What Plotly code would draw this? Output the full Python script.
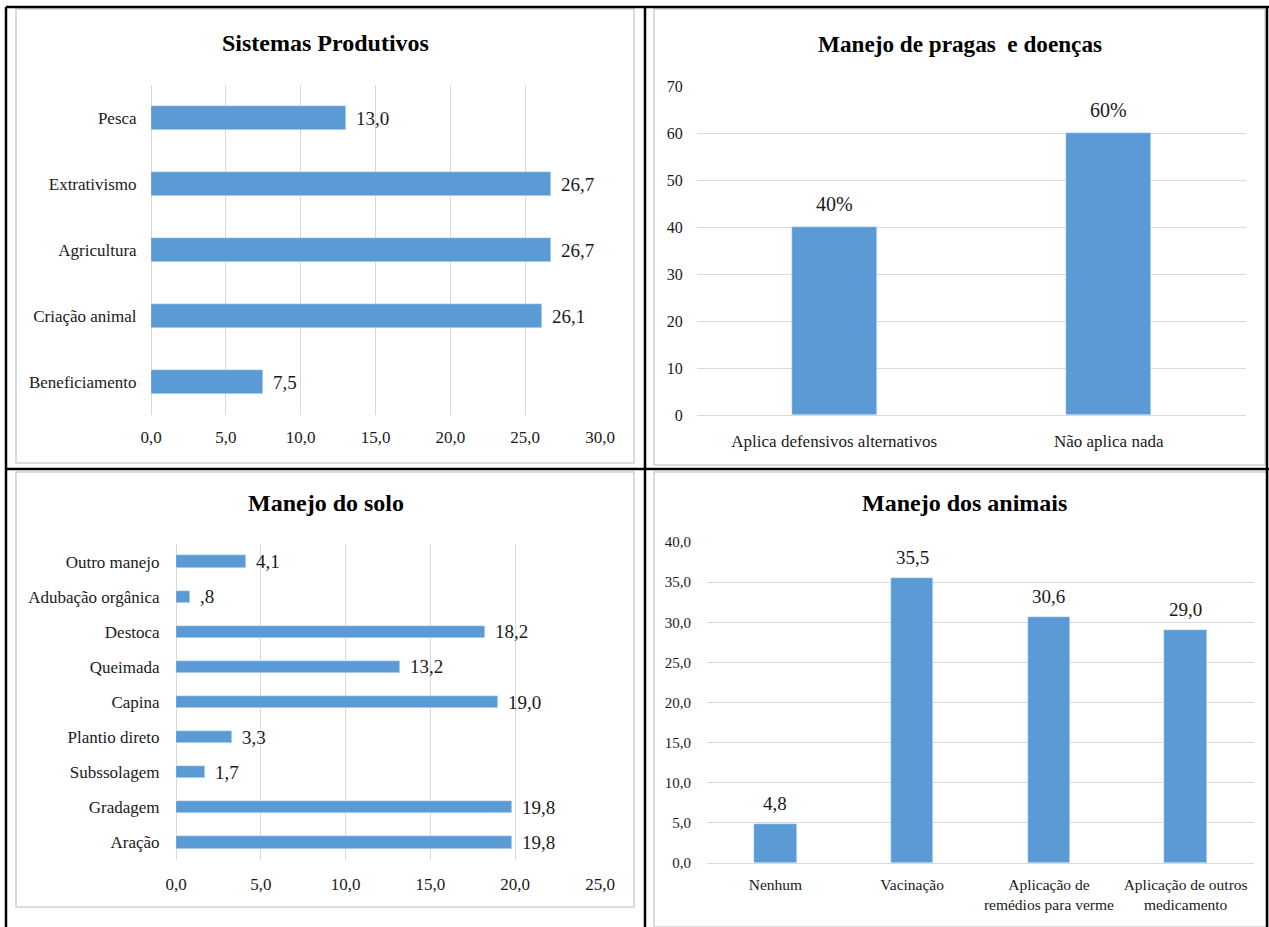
import plotly.graph_objects as go

# ---------------- DATA ----------------
sp_categories = ["Beneficiamento", "Criação animal", "Agricultura", "Extrativismo", "Pesca"]
sp_values = [7.5, 26.1, 26.7, 26.7, 13.0]

pd_categories = ["Aplica defensivos alternativos", "Não aplica nada"]
pd_values = [40, 60]

solo_categories = ["Aração", "Gradagem", "Subssolagem", "Plantio direto", "Capina",
                   "Queimada", "Destoca", "Adubação orgânica", "Outro manejo"]
solo_values = [19.8, 19.8, 1.7, 3.3, 19.0, 13.2, 18.2, 0.8, 4.1]

an_categories = ["Nenhum", "Vacinação", "Aplicação de<br>remédios para verme",
                 "Aplicação de outros<br>medicamento"]
an_values = [4.8, 35.5, 30.6, 29.0]

titles = ["Sistemas Produtivos", "Manejo de pragas  e doenças", "Manejo do solo", "Manejo dos animais"]

# ---------------- STYLE ----------------
W, H = 1269, 927
FONT = "Liberation Serif, Times New Roman, serif"
BAR = "#5B9BD5"
GRID = "#D9D9D9"
TXT = "#1a1a1a"


def px_x(p):
    return p / W


def px_y(p):
    return 1 - p / H


def fmt_comma(v):
    s = f"{v:.1f}".replace(".", ",")
    if s.startswith("0,"):
        s = s[1:]
    return s


fig = go.Figure()

fig.add_trace(go.Bar(x=sp_values, y=sp_categories, orientation="h", marker_color=BAR,
                     width=0.35, xaxis="x", yaxis="y", showlegend=False))
fig.add_trace(go.Bar(x=pd_categories, y=pd_values, marker_color=BAR,
                     width=0.31, xaxis="x2", yaxis="y2", showlegend=False))
fig.add_trace(go.Bar(x=solo_values, y=solo_categories, orientation="h", marker_color=BAR,
                     width=0.35, xaxis="x3", yaxis="y3", showlegend=False))
fig.add_trace(go.Bar(x=an_categories, y=an_values, marker_color=BAR,
                     width=0.31, xaxis="x4", yaxis="y4", showlegend=False))

tick_font = dict(family=FONT, size=17, color=TXT)
tick_font_small = dict(family=FONT, size=15.5, color=TXT)

annotations = []
for c, v in zip(sp_categories, sp_values):
    annotations.append(dict(x=v, y=c, xref="x", yref="y", text=fmt_comma(v), showarrow=False,
                            xanchor="left", xshift=8, font=dict(family=FONT, size=19, color=TXT)))
for c, v in zip(pd_categories, pd_values):
    annotations.append(dict(x=c, y=v, xref="x2", yref="y2", text=f"{v}%", showarrow=False,
                            yanchor="bottom", yshift=10, font=dict(family=FONT, size=20, color=TXT)))
for c, v in zip(solo_categories, solo_values):
    annotations.append(dict(x=v, y=c, xref="x3", yref="y3", text=fmt_comma(v), showarrow=False,
                            xanchor="left", xshift=8, font=dict(family=FONT, size=19, color=TXT)))
for c, v in zip(an_categories, an_values):
    annotations.append(dict(x=c, y=v, xref="x4", yref="y4", text=fmt_comma(v), showarrow=False,
                            yanchor="bottom", yshift=8, font=dict(family=FONT, size=19, color=TXT)))

title_pos = [(325, 43), (960, 44), (326, 503), (964, 503)]
title_sizes = [24, 23.2, 24, 24]
for t, (tx, ty), ts in zip(titles, title_pos, title_sizes):
    annotations.append(dict(x=px_x(tx), y=px_y(ty), xref="paper", yref="paper", text=f"<b>{t}</b>",
                            showarrow=False, xanchor="center", yanchor="middle",
                            font=dict(family=FONT, size=ts, color="#000000")))

shapes = []
frames = [(16, 9, 634, 463), (654, 9, 1265, 465), (16, 472, 634, 907), (654, 472, 1269, 927)]
for x0, y0, x1, y1 in frames:
    shapes.append(dict(type="rect", xref="paper", yref="paper", x0=px_x(x0), x1=px_x(x1),
                       y0=px_y(y1), y1=px_y(y0), line=dict(color="#D0D0D0", width=1.5),
                       fillcolor="rgba(0,0,0,0)", layer="below"))
black_lines = [(6, 7, 6, 927), (6, 7, 1269, 7), (645, 7, 645, 927), (6, 469, 1269, 469),
               (1267, 7, 1267, 927)]
for x0, y0, x1, y1 in black_lines:
    shapes.append(dict(type="line", xref="paper", yref="paper", x0=px_x(x0), x1=px_x(x1),
                       y0=px_y(y0), y1=px_y(y1), line=dict(color="#000000", width=2.5)))

common_grid = dict(gridcolor=GRID, gridwidth=1, zeroline=True, zerolinecolor=GRID, zerolinewidth=1,
                   showline=False, automargin=False)
cat_common = dict(showgrid=False, showline=False, zeroline=False, automargin=False,
                  ticks="outside", tickcolor="rgba(0,0,0,0)")

fig.update_layout(
    width=W, height=H, autosize=False,
    margin=dict(l=0, r=0, t=0, b=0, pad=0, autoexpand=False),
    paper_bgcolor="white", plot_bgcolor="white",
    separators=",.",
    font=dict(family=FONT, color=TXT),
    bargap=0,
    xaxis=dict(domain=[px_x(151), px_x(600)], anchor="y", range=[0, 30], dtick=5, tickformat=".1f",
               showgrid=True, tickfont=tick_font, ticks="outside", ticklen=7,
               tickcolor="rgba(0,0,0,0)", **common_grid),
    yaxis=dict(domain=[px_y(415), px_y(85)], anchor="x", type="category",
               categoryorder="array", categoryarray=sp_categories,
               tickfont=tick_font, ticklen=10, **cat_common),
    xaxis2=dict(domain=[px_x(697), px_x(1246)], anchor="y2", type="category",
                categoryorder="array", categoryarray=pd_categories,
                tickfont=tick_font, ticklen=11, **cat_common),
    yaxis2=dict(domain=[px_y(415), px_y(86)], anchor="x2", range=[0, 70], dtick=10,
                showgrid=True, tickfont=dict(family=FONT, size=16, color=TXT), ticks="outside",
                ticklen=10, tickcolor="rgba(0,0,0,0)", **common_grid),
    xaxis3=dict(domain=[px_x(176), px_x(600)], anchor="y3", range=[0, 25], dtick=5, tickformat=".1f",
                showgrid=True, tickfont=tick_font, ticks="outside", ticklen=9,
                tickcolor="rgba(0,0,0,0)", **common_grid),
    yaxis3=dict(domain=[px_y(860), px_y(544)], anchor="x3", type="category",
                categoryorder="array", categoryarray=solo_categories,
                tickfont=tick_font, ticklen=12, **cat_common),
    xaxis4=dict(domain=[px_x(707), px_x(1254)], anchor="y4", type="category",
                categoryorder="array", categoryarray=an_categories,
                tickfont=tick_font_small, ticklen=7, **cat_common),
    yaxis4=dict(domain=[px_y(863), px_y(542)], anchor="x4", range=[0, 40], dtick=5, tickformat=".1f",
                showgrid=True, tickfont=dict(family=FONT, size=15, color=TXT), ticks="outside",
                ticklen=12, tickcolor="rgba(0,0,0,0)", **common_grid),
    annotations=annotations,
    shapes=shapes,
)

fig.write_html(
    "out.html",
    config={"displayModeBar": False},
    post_script="document.body.style.margin='0';document.body.style.overflow='hidden';",
)
